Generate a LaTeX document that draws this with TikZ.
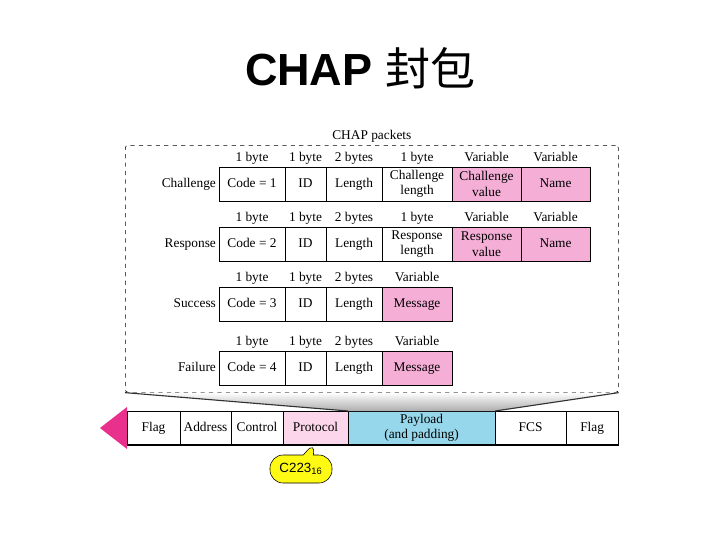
\documentclass[tikz,border=0pt]{standalone}
\usepackage{fontspec}
\setmainfont{Liberation Serif}
\newfontfamily\titlefont{Liberation Sans}
\newfontfamily\cjkfont{Noto Sans CJK SC}
\usetikzlibrary{positioning, shapes.callouts, calc}
\definecolor{varpink}{RGB}{245,175,215}
\definecolor{protopink}{RGB}{252,214,234}
\definecolor{loadblue}{RGB}{150,215,235}
\definecolor{flagmag}{RGB}{232,48,140}
\definecolor{noteyellow}{RGB}{255,250,20}

\begin{document}
\begin{tikzpicture}[x=0.025cm, y=-0.025cm, font=\fontsize{9.5}{11}\selectfont,
  twoline/.style={draw, rectangle, minimum height=0.85cm, inner sep=0pt, outer sep=0pt, align=center},
  field/.style={twoline, text height=1.6ex, text depth=0.45ex},
  size/.style={inner sep=1.5pt, text height=1.6ex, text depth=0.45ex},
  rowname/.style={inner sep=2pt, text height=1.6ex, text depth=0.45ex}]
\useasboundingbox (0,0) rectangle (720,540);
% title
\node (title) at (360,68) {\titlefont\fontsize{32}{32}\selectfont\bfseries CHAP\ \mdseries\cjkfont 封包};
% packet box
\node[draw, dashed, rounded corners=2pt, minimum width=12.325cm, minimum height=6.175cm, anchor=north west] (pkts) at (125,145) {};
\node[above=1pt of pkts, inner sep=1pt] (pktslbl) {CHAP packets};

% challenge
\node[field, minimum width=1.65cm, anchor=north west] (chcode) at (219,167) {Code = 1};
\node[field, minimum width=1.025cm, right=0pt of chcode] (chid) {ID};
\node[field, minimum width=1.4cm, right=0pt of chid] (chlen) {Length};
\node[twoline, minimum width=1.75cm, right=0pt of chlen] (chclen) {Challenge\\length};
\node[twoline, fill=varpink, minimum width=1.725cm, right=0pt of chclen] (chcval) {Challenge\\value};
\node[field, fill=varpink, minimum width=1.725cm, right=0pt of chcval] (chname) {Name};
\node[rowname, left=0pt of chcode] {Challenge};
\node[size, above=0pt of chcode] {1 byte};
\node[size, above=0pt of chid] {1 byte};
\node[size, above=0pt of chlen] {2 bytes};
\node[size, above=0pt of chclen] {1 byte};
\node[size, above=0pt of chcval] {Variable};
\node[size, above=0pt of chname] {Variable};

% response
\node[field, minimum width=1.65cm, anchor=north west] (rscode) at (219,227) {Code = 2};
\node[field, minimum width=1.025cm, right=0pt of rscode] (rsid) {ID};
\node[field, minimum width=1.4cm, right=0pt of rsid] (rslen) {Length};
\node[twoline, minimum width=1.75cm, right=0pt of rslen] (rsrlen) {Response\\length};
\node[twoline, fill=varpink, minimum width=1.725cm, right=0pt of rsrlen] (rsrval) {Response\\value};
\node[field, fill=varpink, minimum width=1.725cm, right=0pt of rsrval] (rsname) {Name};
\node[rowname, left=0pt of rscode] {Response};
\node[size, above=0pt of rscode] {1 byte};
\node[size, above=0pt of rsid] {1 byte};
\node[size, above=0pt of rslen] {2 bytes};
\node[size, above=0pt of rsrlen] {1 byte};
\node[size, above=0pt of rsrval] {Variable};
\node[size, above=0pt of rsname] {Variable};

% success
\node[field, minimum width=1.65cm, anchor=north west] (sccode) at (219,287) {Code = 3};
\node[field, minimum width=1.025cm, right=0pt of sccode] (scid) {ID};
\node[field, minimum width=1.4cm, right=0pt of scid] (sclen) {Length};
\node[field, fill=varpink, minimum width=1.75cm, right=0pt of sclen] (scmsg) {Message};
\node[rowname, left=0pt of sccode] {Success};
\node[size, above=0pt of sccode] {1 byte};
\node[size, above=0pt of scid] {1 byte};
\node[size, above=0pt of sclen] {2 bytes};
\node[size, above=0pt of scmsg] {Variable};

% failure
\node[field, minimum width=1.65cm, anchor=north west] (flcode) at (219,351) {Code = 4};
\node[field, minimum width=1.025cm, right=0pt of flcode] (flid) {ID};
\node[field, minimum width=1.4cm, right=0pt of flid] (fllen) {Length};
\node[field, fill=varpink, minimum width=1.75cm, right=0pt of fllen] (flmsg) {Message};
\node[rowname, left=0pt of flcode] {Failure};
\node[size, above=0pt of flcode] {1 byte};
\node[size, above=0pt of flid] {1 byte};
\node[size, above=0pt of fllen] {2 bytes};
\node[size, above=0pt of flmsg] {Variable};

% PPP frame
\node[field, minimum width=1.325cm, anchor=north west] (fflag) at (127,411) {Flag};
\node[field, minimum width=1.275cm, right=0pt of fflag] (faddr) {Address};
\node[field, minimum width=1.3cm, right=0pt of faddr] (fctrl) {Control};
\node[field, fill=protopink, minimum width=1.625cm, right=0pt of fctrl] (fproto) {Protocol};
\node[twoline, fill=loadblue, minimum width=3.675cm, right=0pt of fproto] (fload) {Payload\\(and padding)};
\node[field, minimum width=1.775cm, right=0pt of fload] (ffcs) {FCS};
\node[field, minimum width=1.3cm, right=0pt of ffcs] (flflag) {Flag};
\draw[line width=2pt] (fflag.south west) -- (flflag.south east);
\fill[flagmag] ($(fflag.west)+(0,-21)$) -- ($(fflag.west)+(-27,0)$) -- ($(fflag.west)+(0,21)$) -- cycle;

% zoom shading
\shade[top color=white, bottom color=gray!65] (pkts.south west) -- (pkts.south east) -- (fload.north east) -- (fload.north west) -- cycle;
\draw[gray!40!black, thick] (pkts.south west) -- (fload.north west);
\draw[gray!40!black, thick] (pkts.south east) -- (fload.north east);

% protocol value
\node[rectangle callout, draw, fill=noteyellow, rounded corners=0.33cm, minimum width=1.55cm, minimum height=0.7cm, callout absolute pointer={($(fproto.south)+(0,-4)$)}, font=\titlefont\fontsize{9.5}{9.5}\selectfont] (protoval) at (301,469) {C223\textsubscript{16}};
\end{tikzpicture}
\end{document}
